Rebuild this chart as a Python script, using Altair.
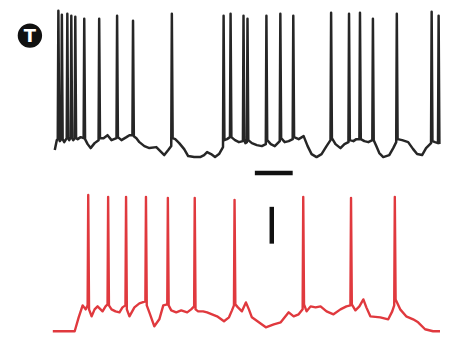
import altair as alt
import pandas as pd

# Black trace (time units, voltage units with larger = lower on page)
black_t = [55, 57,
           58, 58.6, 59.5, 60,
           61.5, 62.1, 62.9, 64.5,
           67, 67.6, 68.4, 69.5,
           71, 71.6, 72.4, 73.5,
           75, 75.6, 76.4, 78, 81,
           84, 84.6, 85.4, 88, 91, 95,
           99, 99.6, 100.4, 104, 108, 112,
           117, 117.6, 118.4, 122, 127, 130,
           133, 133.6, 134.4, 137, 140, 145, 150, 157, 162, 165, 169,
           172, 172.6, 173.4, 176, 180, 185, 189, 195, 201, 205, 208, 212, 216, 220,
           224, 224.6, 225.4, 228,
           231, 231.6, 232.4, 236, 240,
           244, 244.6, 245.4, 246.5,
           248, 248.6, 249.4, 253, 258, 263,
           267, 267.6, 268.4, 272, 276,
           281, 281.6, 282.4, 286, 290,
           294, 294.6, 295.4, 300, 305, 309, 313, 318, 323, 328,
           332, 332.6, 333.4, 337, 342, 346,
           350, 350.6, 351.4, 355, 358,
           361, 361.6, 362.4, 366, 370,
           374, 374.6, 375.4, 378, 381, 385, 391, 395,
           398, 398.6, 399.4, 404, 410, 415, 419, 424, 428,
           433, 433.6, 434.4, 437,
           440, 440.6, 441.4]
black_v = [150, 140,
           139, 10, 138, 141,
           139, 14, 139, 142,
           138, 13, 138, 140,
           137, 15, 138, 140,
           138, 16, 138, 139, 137,
           138, 18, 139, 144, 148, 143,
           140, 18, 138, 138, 135, 140,
           138, 15, 137, 140, 137, 135,
           135, 20, 136, 138, 142, 146, 148, 147, 152, 155, 150,
           146, 13, 138, 139, 143, 149, 156, 157, 157, 155, 152, 154, 157, 154,
           147, 15, 140, 139,
           137, 13, 137, 140, 142,
           141, 15, 139, 143,
           142, 18, 140, 143, 145, 146,
           144, 15, 140, 144, 146,
           141, 13, 138, 142, 141,
           139, 15, 137, 139, 136, 146, 154, 157, 154, 146,
           140, 12, 138, 144, 148, 144,
           142, 13, 140, 141, 139,
           139, 12, 139, 141, 142,
           140, 18, 140, 146, 153, 157, 155, 148,
           142, 13, 139, 140, 142, 149, 154, 155, 148,
           143, 11, 141, 142,
           143, 15, 144]

# Red trace
red_t = [53, 75, 79, 83, 86,
         88, 88.6, 89.4, 92, 95, 98, 103, 106,
         108, 108.6, 109.4, 112, 116, 120, 123,
         126, 126.6, 127.4, 130, 135, 140, 143,
         146, 146.6, 147.4, 150, 155, 160, 164,
         168, 168.6, 169.4, 172, 177, 182, 188, 192,
         195, 195.6, 196.4, 199, 204, 208, 213, 218, 225, 230, 233,
         235, 235.6, 236.4, 239, 243, 247, 250, 253, 260, 267, 275, 282, 290, 295, 300,
         304, 304.6, 305.4, 308, 312, 317, 322, 328, 335, 342, 348,
         352, 352.6, 353.4, 357, 361, 365, 368, 372, 382, 390, 394,
         396, 396.6, 397.4, 402, 408, 415, 420, 427, 435, 442]
red_v = [332, 332, 318, 306, 310,
         306, 195, 310, 317, 310, 307, 312, 307,
         305, 197, 306, 310, 312, 313, 308,
         306, 197, 310, 317, 308, 304, 303,
         302, 197, 306, 313, 327, 320, 306,
         305, 198, 306, 311, 313, 311, 313, 310,
         307, 198, 310, 312, 312, 313, 315, 317, 322, 318, 311,
         306, 200, 305, 308, 312, 303, 310, 318, 323, 328, 325, 323, 313, 317, 315,
         310, 197, 305, 312, 307, 308, 307, 312, 315, 310, 307,
         306, 198, 305, 311, 307, 300, 308, 317, 318, 320, 312,
         306, 197, 300, 310, 317, 320, 323, 330, 332, 332]

# Scale bars
hbar_t = [256, 294]
hbar_v = [173, 173]
vbar_t = [273, 273]
vbar_v = [207, 244]

# Panel label
label_t = [30]
label_v = [35]
label_text = ["T"]

xs = alt.Scale(domain=[8, 442])
ys = alt.Scale(domain=[8, 333], reverse=True)

black_df = pd.DataFrame({"t": black_t, "v": black_v, "i": range(len(black_t))})
red_df = pd.DataFrame({"t": red_t, "v": red_v, "i": range(len(red_t))})

black_line = alt.Chart(black_df).mark_line(color="#262626", strokeWidth=2.5, strokeJoin="round").encode(
    x=alt.X("t:Q", scale=xs, axis=None),
    y=alt.Y("v:Q", scale=ys, axis=None),
    order="i:Q",
)
red_line = alt.Chart(red_df).mark_line(color="#e0393e", strokeWidth=2.4, strokeJoin="round").encode(
    x=alt.X("t:Q", scale=xs, axis=None),
    y=alt.Y("v:Q", scale=ys, axis=None),
    order="i:Q",
)

hbar = alt.Chart(pd.DataFrame({"t": [hbar_t[0]], "t2": [hbar_t[1]], "v": [hbar_v[0]]})).mark_rule(
    color="#111111", strokeWidth=4.5
).encode(
    x=alt.X("t:Q", scale=xs, axis=None),
    x2="t2:Q",
    y=alt.Y("v:Q", scale=ys, axis=None),
)
vbar = alt.Chart(pd.DataFrame({"t": [vbar_t[0]], "v": [vbar_v[0]], "v2": [vbar_v[1]]})).mark_rule(
    color="#111111", strokeWidth=4.5
).encode(
    x=alt.X("t:Q", scale=xs, axis=None),
    y=alt.Y("v:Q", scale=ys, axis=None),
    y2="v2:Q",
)

lab_df = pd.DataFrame({"t": label_t, "v": label_v, "txt": label_text})
circle = alt.Chart(lab_df).mark_circle(color="#111111", opacity=1, size=600).encode(
    x=alt.X("t:Q", scale=xs, axis=None),
    y=alt.Y("v:Q", scale=ys, axis=None),
)
text = alt.Chart(lab_df).mark_text(
    color="white", fontSize=18, fontWeight="bold", font="DejaVu Sans", baseline="middle", align="center", dy=1
).encode(
    x=alt.X("t:Q", scale=xs, axis=None),
    y=alt.Y("v:Q", scale=ys, axis=None),
    text="txt:N",
)

chart = alt.layer(black_line, red_line, hbar, vbar, circle, text).properties(
    width=434, height=325, padding=0
).configure_view(strokeWidth=0)

chart.save("out.html", embed_options={"renderer": "svg", "actions": False})
